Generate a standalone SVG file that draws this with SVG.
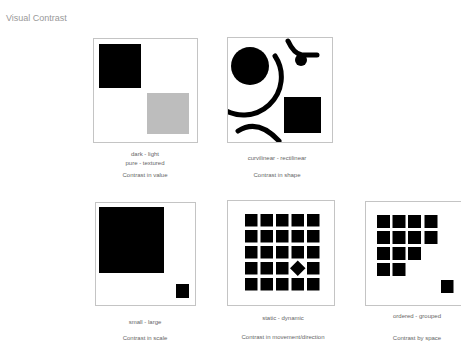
<svg xmlns="http://www.w3.org/2000/svg" width="461" height="343" viewBox="0 0 461 343">
<style>
.frame{fill:#fff;stroke:#c4c4c4;stroke-width:1}
.blk{fill:#000}
.arc{fill:none;stroke:#000;stroke-width:5;stroke-linecap:round}
.lbl{font-family:"Liberation Sans",Arial,sans-serif;font-size:6px;fill:#666;text-anchor:middle}
.ttl{font-family:"Liberation Sans",Arial,sans-serif;font-size:9px;fill:#999}
</style>
<defs>
<clipPath id="c2"><rect x="228" y="38" width="104" height="104"/></clipPath>
</defs>
<rect width="461" height="343" fill="#fff"/>
<text class="ttl" x="6" y="21">Visual Contrast</text>

<g id="value">
<rect class="frame" x="93.5" y="38.5" width="104" height="104"/>
<rect class="blk" x="99" y="44" width="42" height="44"/>
<rect x="147" y="93" width="42" height="41" fill="#bdbdbd"/>
<text class="lbl" x="145" y="156">dark - light</text>
<text class="lbl" x="145" y="165">pure - textured</text>
<text class="lbl" x="145" y="177">Contrast in value</text>
</g>

<g id="shape">
<rect class="frame" x="227.5" y="37.5" width="105" height="105"/>
<g clip-path="url(#c2)">
<circle class="blk" cx="250" cy="66" r="19"/>
<path class="arc" d="M275 56 A38 38 0 0 1 220 107"/>
<path class="arc" d="M238 131 Q258 118 279 141"/>
<path class="arc" d="M288 41 Q294 54 302 55 Q310 55 317 55"/>
<circle class="blk" cx="301" cy="60" r="6"/>
<rect class="blk" x="284" y="97" width="37" height="36"/>
</g>
<text class="lbl" x="277" y="160">curvilinear - rectilinear</text>
<text class="lbl" x="277" y="177">Contrast in shape</text>
</g>

<g id="scale">
<rect class="frame" x="95.5" y="202.5" width="100" height="103"/>
<rect class="blk" x="99" y="207" width="65" height="66"/>
<rect class="blk" x="176" y="284" width="13" height="14"/>
<text class="lbl" x="145" y="324">small - large</text>
<text class="lbl" x="145" y="340">Contrast in scale</text>
</g>

<g id="movement">
<rect class="frame" x="227.5" y="200.5" width="107" height="105"/>
<g class="blk">
<rect x="245" y="214" width="12.5" height="12.5"/><rect x="260.5" y="214" width="12.5" height="12.5"/><rect x="276" y="214" width="12.5" height="12.5"/><rect x="291.5" y="214" width="12.5" height="12.5"/><rect x="307" y="214" width="12.5" height="12.5"/>
<rect x="245" y="230" width="12.5" height="12.5"/><rect x="260.5" y="230" width="12.5" height="12.5"/><rect x="276" y="230" width="12.5" height="12.5"/><rect x="291.5" y="230" width="12.5" height="12.5"/><rect x="307" y="230" width="12.5" height="12.5"/>
<rect x="245" y="246" width="12.5" height="12.5"/><rect x="260.5" y="246" width="12.5" height="12.5"/><rect x="276" y="246" width="12.5" height="12.5"/><rect x="291.5" y="246" width="12.5" height="12.5"/><rect x="307" y="246" width="12.5" height="12.5"/>
<rect x="245" y="262" width="12.5" height="12.5"/><rect x="260.5" y="262" width="12.5" height="12.5"/><rect x="276" y="262" width="12.5" height="12.5"/><rect x="307" y="262" width="12.5" height="12.5"/>
<rect x="245" y="278" width="12.5" height="12.5"/><rect x="260.5" y="278" width="12.5" height="12.5"/><rect x="276" y="278" width="12.5" height="12.5"/><rect x="291.5" y="278" width="12.5" height="12.5"/><rect x="307" y="278" width="12.5" height="12.5"/>
<rect x="-5.5" y="-5.5" width="11" height="11" transform="translate(297.75 268.25) rotate(45)"/>
</g>
<text class="lbl" x="283" y="320">static - dynamic</text>
<text class="lbl" x="283" y="339">Contrast in movement/direction</text>
</g>

<g id="space">
<rect class="frame" x="365.5" y="201.5" width="100" height="104"/>
<g class="blk">
<rect x="377" y="215" width="13" height="13"/><rect x="392.5" y="215" width="13" height="13"/><rect x="408" y="215" width="13" height="13"/><rect x="424.5" y="215" width="13" height="13"/>
<rect x="377" y="231" width="13" height="13"/><rect x="392.5" y="231" width="13" height="13"/><rect x="408" y="231" width="13" height="13"/><rect x="424.5" y="231" width="13" height="13"/>
<rect x="377" y="247" width="13" height="13"/><rect x="392.5" y="247" width="13" height="13"/><rect x="408" y="247" width="13" height="13"/>
<rect x="377" y="263" width="13" height="13"/><rect x="392.5" y="263" width="13" height="13"/>
<rect x="441" y="280" width="12.5" height="13"/>
</g>
<text class="lbl" x="417" y="318">ordered - grouped</text>
<text class="lbl" x="417" y="340">Contrast by space</text>
</g>
</svg>
